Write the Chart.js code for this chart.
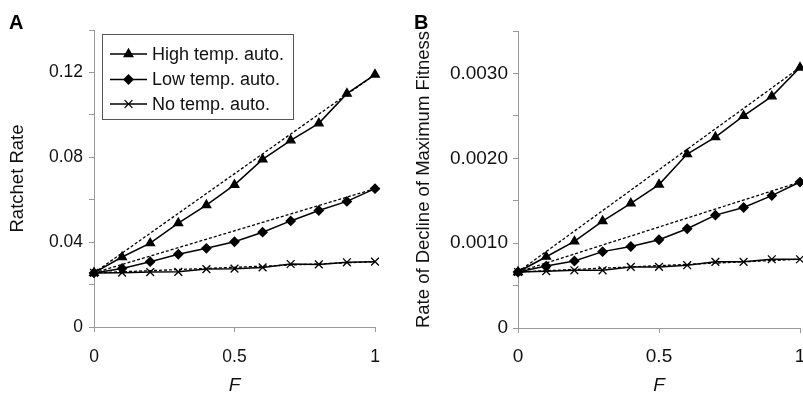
<!DOCTYPE html>
<html><head><meta charset="utf-8">
<script src="https://cdn.jsdelivr.net/npm/chart.js@4/dist/chart.umd.min.js"></script>
<style>
html,body{margin:0;padding:0;width:803px;height:399px;overflow:hidden;background:#fff;}
#wrap{position:relative;width:803px;height:399px;overflow:hidden;}
canvas{position:absolute;top:0;}
#cA{left:0;} #cB{left:400px;}
.lab{position:absolute;font:bold 20px "Liberation Sans",Arial,sans-serif;line-height:23px;color:#000;}
</style></head>
<body><div id="wrap">
<canvas id="cA" width="400" height="399"></canvas>
<canvas id="cB" width="430" height="399"></canvas>
<div class="lab" style="left:9px;top:11px">A</div>
<div class="lab" style="left:414px;top:11px">B</div>
</div>
<script>
// ---- data ----
const F = [0, 0.1, 0.2, 0.3, 0.4, 0.5, 0.6, 0.7, 0.8, 0.9, 1];
const trendF = [0, 1];
const seriesNames = ["High temp. auto.", "Low temp. auto.", "No temp. auto."];

const ratchetHigh = [0.0255, 0.033, 0.0395, 0.049, 0.0575, 0.067, 0.079, 0.088, 0.096, 0.110, 0.119];
const ratchetLow  = [0.0255, 0.0276, 0.0308, 0.0343, 0.0371, 0.0402, 0.0447, 0.050, 0.0549, 0.0592, 0.0652];
const ratchetNo   = [0.0255, 0.0256, 0.0259, 0.026, 0.0273, 0.0275, 0.0281, 0.0297, 0.0295, 0.0305, 0.0308];
const ratchetHighTrend = [0.0255, 0.119];
const ratchetLowTrend  = [0.0255, 0.0652];
const ratchetNoTrend   = [0.0255, 0.0308];

const fitnessHigh = [0.00066, 0.00084, 0.00102, 0.00126, 0.00147, 0.00169, 0.00205, 0.00225, 0.0025, 0.00273, 0.00307];
const fitnessLow  = [0.00066, 0.00073, 0.00079, 0.0009, 0.00096, 0.00104, 0.00117, 0.00133, 0.00142, 0.00156, 0.00172];
const fitnessNo   = [0.00066, 0.00067, 0.00068, 0.00068, 0.00072, 0.00072, 0.00074, 0.00078, 0.00078, 0.00081, 0.00081];
const fitnessHighTrend = [0.00066, 0.00307];
const fitnessLowTrend  = [0.00066, 0.00172];
const fitnessNoTrend   = [0.00066, 0.00081];

const xTickLabels = ["0", "0.5", "1"];
const ratchetTickLabels = ["0", "", "0.04", "", "0.08", "", "0.12", ""];
const fitnessTickLabels = ["0", "", "0.0010", "", "0.0020", "", "0.0030", ""];

// ---- styles ----
const FONT = '"Liberation Sans", Arial, sans-serif';
const pointStyles = ['triangle', 'rectRot', 'crossRot'];
const pointRadii = [5, 4.5, 5.5];

function pts(xs, ys) { return xs.map((x, i) => ({x: x, y: ys[i]})); }

function buildDatasets(series, trends) {
  const ds = [];
  series.forEach((ys, i) => {
    ds.push({
      label: seriesNames[i], data: pts(F, ys),
      borderColor: '#000', backgroundColor: '#000', borderWidth: 1.5,
      pointStyle: pointStyles[i], pointRadius: pointRadii[i],
      pointBorderWidth: 1.3, pointBackgroundColor: '#000', pointBorderColor: '#000',
      tension: 0, clip: false
    });
  });
  trends.forEach((ys, i) => {
    ds.push({
      label: seriesNames[i] + ' trend', data: pts(trendF, ys),
      borderColor: '#000', borderWidth: 1.3, borderDash: [3, 2],
      pointRadius: 0, tension: 0, clip: false
    });
  });
  return ds;
}

function drawMarker(ctx, style, x, y, r) {
  ctx.beginPath();
  if (style === 'triangle') {
    for (let k = 0; k < 3; k++) {
      const a = k * 2 * Math.PI / 3;
      const px = x + Math.sin(a) * r, py = y - Math.cos(a) * r;
      if (k === 0) ctx.moveTo(px, py); else ctx.lineTo(px, py);
    }
    ctx.closePath(); ctx.fill(); ctx.stroke();
  } else if (style === 'rectRot') {
    ctx.moveTo(x - r, y); ctx.lineTo(x, y - r); ctx.lineTo(x + r, y); ctx.lineTo(x, y + r);
    ctx.closePath(); ctx.fill(); ctx.stroke();
  } else {
    const d = r * Math.SQRT1_2;
    ctx.moveTo(x - d, y - d); ctx.lineTo(x + d, y + d);
    ctx.moveTo(x + d, y - d); ctx.lineTo(x - d, y + d);
    ctx.stroke();
  }
}

const boxLegend = {
  id: 'boxLegend',
  afterDraw(chart) {
    const ctx = chart.ctx;
    ctx.save();
    ctx.fillStyle = '#fff';
    ctx.fillRect(102, 34, 191, 85);
    ctx.strokeStyle = '#555'; ctx.lineWidth = 1;
    ctx.strokeRect(102.5, 34.5, 191, 85);
    const rows = [54, 79.5, 104];
    seriesNames.forEach((name, i) => {
      const y = rows[i];
      ctx.strokeStyle = '#000'; ctx.fillStyle = '#000'; ctx.lineWidth = 1.5;
      ctx.beginPath(); ctx.moveTo(110, y); ctx.lineTo(147, y); ctx.stroke();
      ctx.lineWidth = 1.3;
      drawMarker(ctx, pointStyles[i], 128.5, y, pointRadii[i]);
      ctx.fillStyle = '#111';
      ctx.font = '18px ' + FONT;
      ctx.textBaseline = 'middle'; ctx.textAlign = 'left';
      ctx.fillText(name, 152, y + 1);
    });
    ctx.restore();
  }
};

function makePanel(id, series, trends, cfg) {
  return new Chart(document.getElementById(id), {
    type: 'line',
    data: { datasets: buildDatasets(series, trends) },
    plugins: cfg.legend ? [boxLegend] : [],
    options: {
      responsive: false, animation: false,
      layout: { padding: { top: cfg.top, right: cfg.right, left: 0, bottom: 0 } },
      plugins: { legend: { display: false }, tooltip: { enabled: false } },
      scales: {
        x: {
          type: 'linear', min: 0, max: 1,
          afterFit: s => { s.height = cfg.xHeight; },
          grid: { drawOnChartArea: false, drawTicks: true, tickLength: 5, color: '#999' },
          border: { color: '#999', width: 1 },
          ticks: { stepSize: 0.5, padding: cfg.xPad, color: '#111', maxRotation: 0,
                   font: { family: FONT, size: cfg.tickSize },
                   callback: (v, i) => xTickLabels[i] },
          title: { display: true, text: 'F', color: '#111', padding: { top: 0, bottom: 2 },
                   font: { family: FONT, size: 19, style: 'italic' } }
        },
        y: {
          type: 'linear', min: 0, max: cfg.yMax,
          afterFit: s => { s.width = cfg.yWidth; },
          grid: { drawOnChartArea: false, drawTicks: true, tickLength: 5, color: '#999' },
          border: { color: '#999', width: 1 },
          ticks: { stepSize: cfg.yStep, padding: cfg.yPad, color: '#111', autoSkip: false,
                   font: { family: FONT, size: cfg.tickSize },
                   callback: (v, i) => cfg.yLabels[i] },
          title: { display: true, text: cfg.yTitle, color: '#111',
                   padding: { top: cfg.titlePad, bottom: 0 },
                   font: { family: FONT, size: 18.5 } }
        }
      }
    }
  });
}

makePanel('cA', [ratchetHigh, ratchetLow, ratchetNo],
  [ratchetHighTrend, ratchetLowTrend, ratchetNoTrend],
  { legend: true, top: 30, right: 25, xHeight: 72, yWidth: 94, yMax: 0.14, yStep: 0.02,
    yLabels: ratchetTickLabels, yTitle: 'Ratchet Rate', titlePad: 7, tickSize: 17.5,
    xPad: 14.5, yPad: 6 });

makePanel('cB', [fitnessHigh, fitnessLow, fitnessNo],
  [fitnessHighTrend, fitnessLowTrend, fitnessNoTrend],
  { legend: false, top: 31, right: 30, xHeight: 71, yWidth: 118, yMax: 0.0035, yStep: 0.0005,
    yLabels: fitnessTickLabels, yTitle: 'Rate of Decline of Maximum Fitness', titlePad: 13,
    tickSize: 19, xPad: 12.5, yPad: 5 });
</script>
</body></html>
